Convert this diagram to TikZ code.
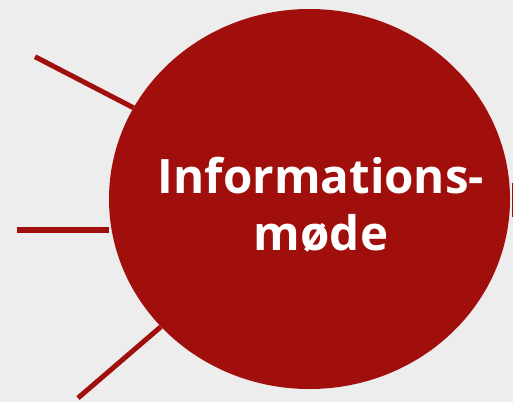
\documentclass[tikz,border=0pt]{standalone}
\usepackage{fontspec}
\newfontfamily\infofont{Open Sans}
\usepackage{tikz}
\usetikzlibrary{shapes.geometric}
\definecolor{modered}{HTML}{A10F0D}
\definecolor{bggrey}{HTML}{EDEDED}
\tikzset{spoke/.style={draw=modered, line width=5pt},
  bubble/.style={ellipse, fill=modered, inner sep=0pt, minimum width=401pt, minimum height=380pt}}

\begin{document}
\begin{tikzpicture}[x=1pt,y=-1pt]
\useasboundingbox[fill=bggrey] (0,0) rectangle (513,402);
\node[bubble] (moede) at (309.5,199) {};
\node[font=\infofont\bfseries\fontsize{47.5}{57}\selectfont, text=white, align=center] (title) at (321,205) {Informations-\\møde};
\coordinate (s1) at (35,56.7);
\coordinate (s2) at (17,230);
\coordinate (s3) at (78,398);
\coordinate (r1) at (512.5,183);
\coordinate (r2) at (512.5,217);
\draw[spoke] (s1) -- (moede);
\draw[spoke, line width=6pt] (s2) -- (s2 -| moede.west);
\draw[spoke] (s3) -- (moede);
\draw[modered, line width=1pt] (r1) -- (r2);
\end{tikzpicture}
\end{document}
